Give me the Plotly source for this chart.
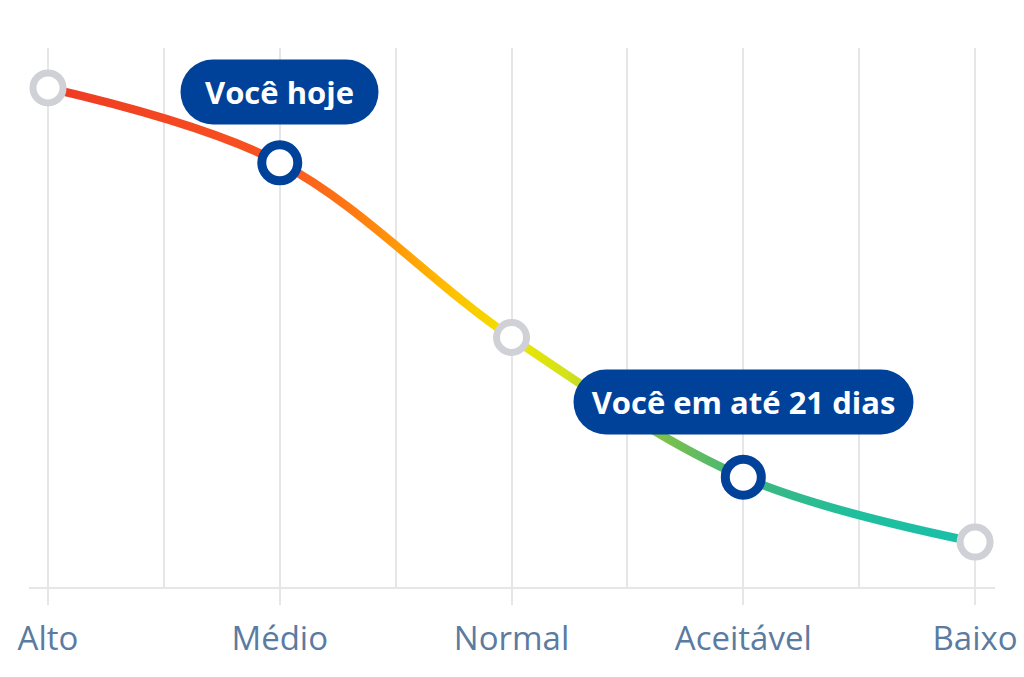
import json
import plotly.graph_objects as go

# ---- data ----
categories = ["Alto", "Médio", "Normal", "Aceitável", "Baixo"]
risk_values = [100, 85, 50, 22, 9]
highlight = [False, True, False, True, False]
callouts = {"Médio": "Você hoje", "Aceitável": "Você em até 21 dias"}

# ---- style ----
FONT = "Open Sans"
GRID = "#e6e6e8"
LABEL = "#5b7ba1"
NAVY = "#00419a"
GRAY_RING = "#d0d1d6"
gradient_stops = [
    (0.00, "#ee3a24"),
    (0.25, "#f85420"),
    (0.33, "#ff7a12"),
    (0.43, "#ffbd00"),
    (0.50, "#f0e400"),
    (0.56, "#d2e21c"),
    (0.64, "#8cc43e"),
    (0.75, "#3fb67c"),
    (0.87, "#1fbf9e"),
    (1.00, "#1abfa8"),
]

x = list(range(len(categories)))

fig = go.Figure()
fig.add_trace(go.Scatter(
    x=x, y=risk_values,
    mode="lines",
    line=dict(shape="spline", smoothing=1.0, width=8.5, color="#f7a21a"),
    hoverinfo="skip",
    showlegend=False,
))
fig.add_trace(go.Scatter(
    x=x, y=risk_values,
    mode="markers",
    marker=dict(
        size=[36 if h else 30 for h in highlight],
        color="white",
        opacity=1,
        line=dict(
            color=[NAVY if h else GRAY_RING for h in highlight],
            width=[9 if h else 7 for h in highlight],
        ),
    ),
    hoverinfo="skip",
    showlegend=False,
))

shifts = {"Médio": 71, "Aceitável": 75}
widths = {"Médio": 169, "Aceitável": 311}
for i, c in enumerate(categories):
    if c in callouts:
        fig.add_annotation(
            x=x[i], y=risk_values[i], xref="x", yref="y",
            text="<b>" + callouts[c] + "</b>",
            showarrow=False, yshift=shifts[c],
            bgcolor=NAVY, borderpad=14, width=widths[c], height=36,
            font=dict(family=FONT, size=31, color="white"),
        )

fig.update_layout(
    width=1024, height=677,
    margin=dict(l=29, r=29, t=48, b=90),
    paper_bgcolor="white", plot_bgcolor="white",
    font=dict(family=FONT),
    xaxis=dict(
        range=[-0.082, 4.086],
        tickvals=x, ticktext=categories,
        showgrid=True, gridcolor=GRID, gridwidth=1.5,
        minor=dict(dtick=0.5, tick0=0, showgrid=True, gridcolor=GRID, gridwidth=1.5, ticks=""),
        showline=True, linecolor=GRID, linewidth=1.5,
        ticks="outside", ticklen=16, tickcolor=GRID, tickwidth=1.5,
        ticklabelstandoff=6,
        tickfont=dict(family=FONT, size=33, color=LABEL),
        zeroline=False, fixedrange=True, automargin=False,
    ),
    yaxis=dict(
        range=[0, 108.0], showgrid=False, zeroline=False,
        showticklabels=False, showline=False, fixedrange=True,
    ),
)

post = """
document.body.style.margin = '0';
document.body.style.overflow = 'hidden';
var gd = document.getElementById('{plot_id}');
var ns = 'http://www.w3.org/2000/svg';
var svg = gd.querySelector('svg.main-svg');
var defs = svg.querySelector('defs');
var lg = document.createElementNS(ns, 'linearGradient');
lg.setAttribute('id', 'riskgrad');
lg.setAttribute('x1', '0'); lg.setAttribute('x2', '1');
lg.setAttribute('y1', '0'); lg.setAttribute('y2', '0');
var stops = STOPS;
stops.forEach(function(s){
  var st = document.createElementNS(ns, 'stop');
  st.setAttribute('offset', s[0]);
  st.setAttribute('stop-color', s[1]);
  lg.appendChild(st);
});
defs.appendChild(lg);
var path = gd.querySelector('.scatterlayer .trace path.js-line');
if (path) { path.style.stroke = 'url(#riskgrad)'; }
gd.querySelectorAll('.annotation rect.bg').forEach(function(r){
  var h = parseFloat(r.getAttribute('height'));
  r.setAttribute('rx', h/2); r.setAttribute('ry', h/2);
});
""".replace("STOPS", json.dumps(gradient_stops))

fig.write_html("out.html", post_script=post, config={"displayModeBar": False})
